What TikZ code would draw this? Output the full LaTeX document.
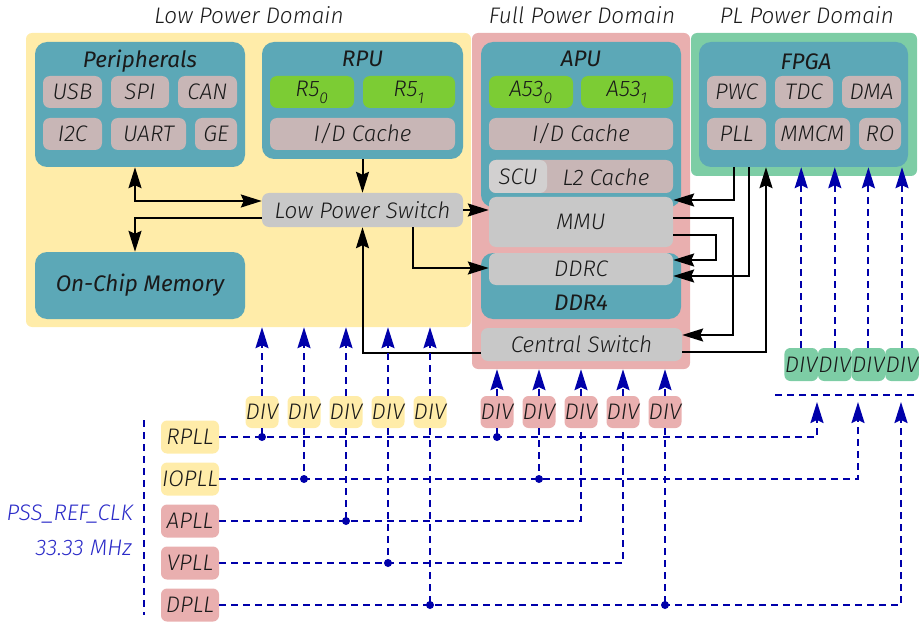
\documentclass[tikz,border=0pt]{standalone}
\usepackage{fontspec}
\setmainfont{Fira Sans}[Scale=2.25, ItalicFont={Fira Sans Light Italic}, BoldItalicFont={Fira Sans Italic}]
\usetikzlibrary{arrows.meta}

\definecolor{lowpow}{HTML}{FFECA9}
\definecolor{fullpow}{HTML}{E9AFAF}
\definecolor{plpow}{HTML}{7DCDA5}
\definecolor{unitcol}{HTML}{5CA8B7}
\definecolor{partcol}{HTML}{C8B6B6}
\definecolor{corecol}{HTML}{7CCC34}
\definecolor{switchcol}{HTML}{C8C8C8}
\definecolor{scucol}{HTML}{D2D0D0}
\definecolor{clkblue}{HTML}{0000AA}
\definecolor{clktext}{HTML}{2B2BC8}
\definecolor{ink}{HTML}{1A1A1A}

\tikzset{
  bigtip/.tip={Stealth[length=21pt, width=13pt, inset=3pt]},
  sz/.style 2 args={minimum width=#1pt, minimum height=#2pt},
  domain/.style={fill=#1, rounded corners=6pt},
  unitbox/.style={fill=unitcol, rounded corners=12pt},
  head/.style={font=\bfseries\itshape},
  part/.style={fill=partcol, rounded corners=7pt, minimum height=32pt},
  core/.style={fill=corecol, rounded corners=7pt, minimum height=32pt},
  switch/.style={fill=switchcol, rounded corners=7pt},
  div/.style={fill=#1, rounded corners=6pt, minimum width=33pt, minimum height=32pt},
  flow/.style={draw, line width=2pt, -bigtip},
  clk/.style={draw=clkblue, line width=2pt, dash pattern=on 7pt off 5pt},
  clkflow/.style={clk, -bigtip},
}

\begin{document}
\begin{tikzpicture}[x=1pt, y=-1pt,
    every node/.style={font=\itshape, text=ink, inner sep=0pt}]
\useasboundingbox (0,0) rectangle (919,623);

% power domains
\node[domain=lowpow, sz={445}{294}] (lpd) at (248.5,180) {};
\node[domain=fullpow, sz={218}{336}] (fpd) at (581,201) {};
\node[domain=plpow, sz={226}{143}] (pld) at (804,104.5) {};
\node (lpdT) at (249,15) {Low Power Domain};
\node (fpdT) at (582,15) {Full Power Domain};
\node (pldT) at (807,15) {PL Power Domain};

% low power domain
\node[unitbox, sz={210}{125}] (peri) at (140,104.5) {};
\node[head] (periT) at (140,61) {Peripherals};
\node[part, sz={59}{32}] (usb) at (72.5,92) {USB};
\node[part, sz={58}{32}] (spi) at (140,92) {SPI};
\node[part, sz={59}{32}] (can) at (207.5,92) {CAN};
\node[part, sz={59}{32}] (i2c) at (72.5,134) {I2C};
\node[part, sz={75}{32}] (uart) at (148.5,134) {UART};
\node[part, sz={42}{32}] (ge) at (216,134) {GE};

\node[unitbox, sz={201}{117}] (rpu) at (362.5,100.5) {};
\node[head] (rpuT) at (362.5,59) {RPU};
\node[core, sz={84}{32}] (r50) at (312,92) {R5\textsubscript{0}};
\node[core, sz={92}{32}] (r51) at (409,92) {R5\textsubscript{1}};
\node[part, sz={185}{32}] (rcache) at (362.5,134) {I/D Cache};

\node[switch, sz={201}{34}] (lps) at (362.5,210) {Low Power Switch};
\node[unitbox, sz={210}{67}] (onchip) at (140,285.5) {\bfseries On-Chip Memory};

% full power domain
\node[unitbox, sz={200}{165}] (apu) at (581,124.5) {};
\node[head] (apuT) at (581,59) {APU};
\node[core, sz={84}{32}] (a530) at (531,92) {A53\textsubscript{0}};
\node[core, sz={92}{32}] (a531) at (627,92) {A53\textsubscript{1}};
\node[part, sz={184}{32}] (acache) at (581,134) {I/D Cache};
\node[part, sz={184}{33}] (l2) at (581,176.5) {};
\node[fill=scucol, rounded corners=7pt, sz={58}{33}] (scu) at (518,176.5) {SCU};
\node (l2T) at (606,177) {L2 Cache};
\node[switch, sz={184}{50}] (mmu) at (581,222) {MMU};

\node[unitbox, sz={200}{66}] (ddr) at (581,286) {};
\node[switch, sz={184}{32}] (ddrc) at (581,269) {DDRC};
\node[head] (ddrT) at (581,303) {DDR4};
\node[switch, sz={201}{33}] (cs) at (581.5,344.5) {Central Switch};

% PL power domain
\node[unitbox, sz={209}{125}] (fpga) at (803.5,104.5) {};
\node[head] (fpgaT) at (806,62) {FPGA};
\node[part, sz={59}{32}] (pwc) at (736.5,92) {PWC};
\node[part, sz={58}{32}] (tdc) at (804,92) {TDC};
\node[part, sz={59}{32}] (dma) at (871.5,92) {DMA};
\node[part, sz={59}{32}] (pl) at (736.5,134) {PLL};
\node[part, sz={75}{32}] (mmcm) at (812.5,134) {MMCM};
\node[part, sz={42}{32}] (ro) at (880,134) {RO};

% data paths
\draw[flow, bigtip-bigtip] ([xshift=-5pt]peri.south) |- ([yshift=9pt]lps.west);
\draw[flow] ([yshift=-8pt]lps.west) -| ([xshift=-5pt]onchip.north);
\draw[flow] (rpu.south) -- (lps.north);
\draw[flow] (lps.east) -- (lps.east -| mmu.west);
\draw[flow] ([xshift=50.5pt]lps.south) |- ([yshift=1pt]ddrc.west);
\draw[flow] ([yshift=-8pt]cs.west) -| (lps.south);
\draw[flow] ([xshift=-70pt]fpga.south) |- ([yshift=22pt]mmu.east);
\draw[flow] ([xshift=-54.5pt]fpga.south) |- ([yshift=-7pt]ddrc.east);
\draw[flow] ([yshift=4pt]mmu.east) -- ++(60pt,0) |- ([yshift=9.5pt]cs.east);
\draw[flow] ([yshift=-13pt]mmu.east) -- ++(43pt,0) |- ([yshift=9pt]ddrc.east);
\draw[flow] ([yshift=-7.5pt]cs.east) -| ([xshift=-37.5pt]fpga.south);

% clocks
\foreach \i in {1,...,5} {
  \node[div=lowpow] (yd\i) at ({220+42*\i},412) {DIV};
  \node[div=fullpow] (pd\i) at ({455+42*\i},412) {DIV};
}
\foreach \i in {1,...,4}
  \node[div=plpow, sz={33.6}{33}] (gd\i) at ({767.6+33.6*\i},364.5) {DIV};
\foreach \t/\c [count=\i] in {RPLL/lowpow, IOPLL/lowpow, APLL/fullpow, VPLL/fullpow, DPLL/fullpow}
  \node[div=\c, sz={58}{33}] (pll\i) at (190,{395+42*\i}) {\t};

\coordinate (busW) at (775,395);
\coordinate (busE) at (919,395);
\coordinate (tap1) at (817,402);
\coordinate (tap2) at (858,402);
\coordinate (tap3) at (901,402);
\coordinate (refT) at (144,420);
\coordinate (refB) at (144,615);

\draw[clk] (refT) -- (refB);
\node[anchor=east, text=clktext] (refclk) at (133,514) {PSS\_REF\_CLK};
\node[anchor=east, text=clktext] (reffreq) at (132,548) {33.33 MHz};

\foreach \i in {1,...,5} {
  \draw[clkflow] (yd\i.north) -- (yd\i.north |- lpd.south);
  \draw[clkflow] (pd\i.north) -- (pd\i.north |- fpd.south);
  \draw[clk] (yd\i.south) -- (yd\i.south |- pll\i.east);
  \fill[clkblue] (yd\i |- pll\i) circle (4pt);
}
\foreach \i in {1,2,5} {
  \draw[clk] (pd\i.south) -- (pd\i.south |- pll\i.east);
  \fill[clkblue] (pd\i |- pll\i) circle (4pt);
}
\draw[clk] (pll3.east) -| (pd3.south);
\draw[clk] (pll4.east) -| (pd4.south);
\draw[clkflow] (pll1.east) -| (tap1);
\draw[clkflow] (pll2.east) -| (tap2);
\draw[clkflow] (pll5.east) -| (tap3);
\draw[clk] (busW) -- (busE);
\foreach \i in {1,...,4}
  \draw[clkflow] (gd\i.north) -- (gd\i.north |- fpga.south);
\end{tikzpicture}
\end{document}
